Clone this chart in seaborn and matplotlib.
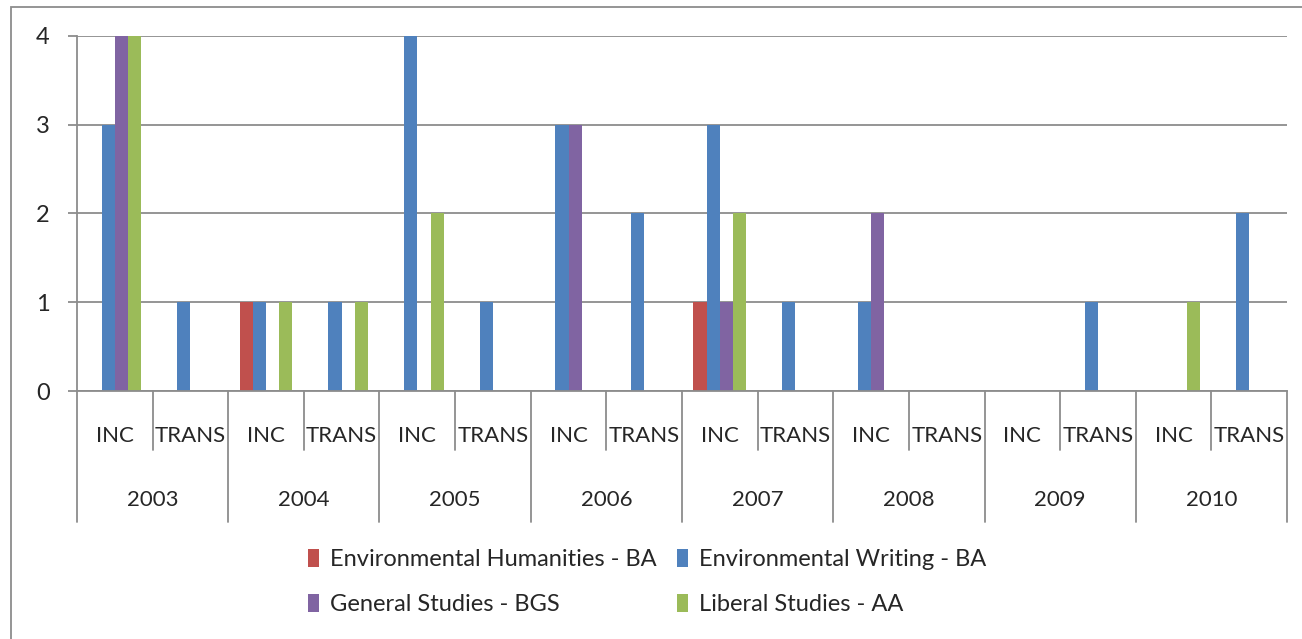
import pandas as pd
import matplotlib.pyplot as plt
import seaborn as sns
from matplotlib.patches import Rectangle

# data
years = ["2003", "2004", "2005", "2006", "2007", "2008", "2009", "2010"]
kinds = ["INC", "TRANS"]
programs = ["Environmental Humanities - BA", "Environmental Writing - BA",
            "General Studies - BGS", "Liberal Studies - AA"]
env_hum = [0, 0, 1, 0, 0, 0, 0, 0, 1, 0, 0, 0, 0, 0, 0, 0]
env_writ = [3, 1, 1, 1, 4, 1, 3, 2, 3, 1, 1, 0, 0, 1, 0, 2]
gen_stud = [4, 0, 0, 0, 0, 0, 3, 0, 1, 0, 2, 0, 0, 0, 0, 0]
lib_stud = [4, 0, 1, 1, 2, 0, 0, 0, 2, 0, 0, 0, 0, 0, 1, 0]
colors = ["#C0504D", "#4F81BD", "#8064A2", "#9BBB59"]

cats = [y + " " + k for y in years for k in kinds]
rows = []
for prog, vals in zip(programs, [env_hum, env_writ, gen_stud, lib_stud]):
    for c, v in zip(cats, vals):
        rows.append({"cat": c, "program": prog, "value": v})
df = pd.DataFrame(rows)

sns.set_style("white")
plt.rcParams["font.family"] = ["Lato", "DejaVu Sans"]

fig = plt.figure(figsize=(13.02, 6.39), dpi=100)
ax = fig.add_axes([0.0591, 0.3881, 0.9294, 0.5556])

sns.barplot(data=df, x="cat", y="value", hue="program", order=cats,
            hue_order=programs, palette=colors, width=0.7, saturation=1,
            errorbar=None, linewidth=0, ax=ax)

grid_col = "#8c8c8c"
ax.set_ylim(0, 4)
ax.set_xlim(-0.5, len(cats) - 0.5)
ax.set_yticks([0, 1, 2, 3, 4])
ax.yaxis.grid(True, color=grid_col, lw=1.3)
ax.set_axisbelow(True)
for s in ["top", "right"]:
    ax.spines[s].set_visible(False)
for s in ["left", "bottom"]:
    ax.spines[s].set_color(grid_col)
    ax.spines[s].set_linewidth(1.3)
ax.tick_params(axis="y", left=True, length=6.5, width=1.3, color=grid_col,
               pad=13, labelsize=17)
ax.set_xticks([])
ax.set_xlabel("")
ax.set_ylabel("")

# two-level category axis
xt = ax.get_xaxis_transform()
for i, c in enumerate(cats):
    ax.text(i, -0.127, c.split()[1], transform=xt, ha="center", va="center",
            fontsize=16)
for j, y in enumerate(years):
    ax.text(2 * j + 0.5, -0.307, y, transform=xt, ha="center", va="center",
            fontsize=16)
for i in range(len(cats) + 1):
    low = -0.369 if i % 2 == 0 else -0.166
    ax.plot([i - 0.5, i - 0.5], [0, low], transform=xt, color=grid_col,
            lw=1.3, clip_on=False)

# legend below, row-wise order
h, l = ax.get_legend_handles_labels()
ax.get_legend().remove()
order = [0, 2, 1, 3]
fig.legend([h[i] for i in order], [l[i] for i in order], ncol=2,
           loc="center", bbox_to_anchor=(0.497, 0.089), frameon=False,
           fontsize=17, handlelength=0.45, handleheight=0.8,
           handletextpad=0.45, columnspacing=0.9, labelspacing=1.0)

# chart border
fig.patches.append(Rectangle((11 / 1302, -0.1), 1.2, 1.1 - 7 / 639,
                             transform=fig.transFigure, fill=False,
                             edgecolor=grid_col, lw=1.3))

fig.savefig("out.png", dpi=100)
